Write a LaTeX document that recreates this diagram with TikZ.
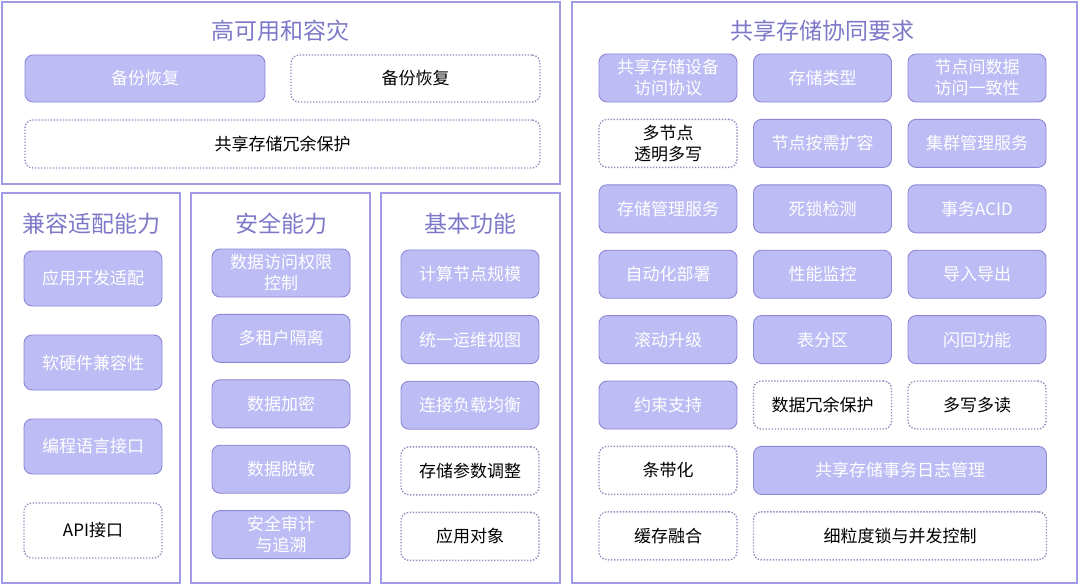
\documentclass[tikz,border=0pt]{standalone}
\usepackage{fontspec}
\setmainfont{Noto Sans CJK SC}
\usepackage{tikz}
\usetikzlibrary{positioning}
\definecolor{panelline}{RGB}{160,155,228}
\definecolor{boxfill}{RGB}{190,188,245}
\definecolor{boxline}{RGB}{140,135,214}
\definecolor{titletext}{RGB}{125,120,200}
\definecolor{dotline}{RGB}{145,142,190}

\begin{document}
\begin{tikzpicture}
				[x=1pt, y=-1pt, inner sep=0pt, outer sep=0pt,
				panel/.style		= {draw=panelline, line width=1.8pt, rectangle, anchor=north west},
				heading/.style		= {text=titletext, font=\fontsize{23}{27}\selectfont},
				solid box/.style	= {draw=boxline, line width=0.9pt, fill=boxfill, rounded corners=8pt, text=white, align=center,
									   minimum width=138pt, minimum height=48pt, font=\fontsize{17}{21}\selectfont},
				open box/.style		= {draw=dotline, line width=1.4pt, dash pattern=on 1.4pt off 1.6pt, fill=white, rounded corners=8pt,
									   text=black, align=center, minimum width=138pt, minimum height=48pt, font=\fontsize{17}{21}\selectfont}]
				
				\useasboundingbox (0,0) rectangle (1080,586);
				
				% frames
				\node [panel, minimum width=558pt, minimum height=182pt]	at (2,2)		(ha)	{};
				\node [panel, minimum width=178pt, minimum height=390pt]	at (2,193)		(jr)	{};
				\node [panel, minimum width=179pt, minimum height=390pt]	at (191,193)	(aq)	{};
				\node [panel, minimum width=179pt, minimum height=390pt]	at (381,193)	(jb)	{};
				\node [panel, minimum width=505pt, minimum height=581pt]	at (572,2)		(gx)	{};
				
				\node [heading]	at (280,31)		(ha title)	{高可用和容灾};
				\node [heading]	at (92,224)		(jr title)	{兼容适配能力};
				\node [heading]	at (281,224)	(aq title)	{安全能力};
				\node [heading]	at (470,224)	(jb title)	{基本功能};
				\node [heading]	at (822,31)		(gx title)	{共享存储协同要求};
				
				% high availability
				\node [solid box, minimum width=240pt, minimum height=47pt]	at (145,78.5)	(ha1)	{备份恢复};
				\node [open box, minimum width=249pt, minimum height=47pt]	at (415.5,78.5)	(ha2)	{备份恢复};
				\node [open box, minimum width=515pt]						at (282.5,144)	(ha3)	{共享存储冗余保护};
				
				% compatibility
				\node [solid box, minimum height=55pt]	at (93,278.5)				(jr1)	{应用开发适配};
				\node [solid box, minimum height=55pt]	[below = 29pt of jr1]		(jr2)	{软硬件兼容性};
				\node [solid box, minimum height=55pt]	[below = 29pt of jr2]		(jr3)	{编程语言接口};
				\node [open box, minimum height=55pt]	[below = 29pt of jr3]		(jr4)	{API接口};
				
				% security
				\node [solid box]	at (281,273)				(aq1)	{数据访问权限\\控制};
				\node [solid box]	[below = 17.4pt of aq1]		(aq2)	{多租户隔离};
				\node [solid box]	[below = 17.4pt of aq2]		(aq3)	{数据加密};
				\node [solid box]	[below = 17.4pt of aq3]		(aq4)	{数据脱敏};
				\node [solid box]	[below = 17.4pt of aq4]		(aq5)	{安全审计\\与追溯};
				
				% basics
				\node [solid box]	at (470,274)				(jb1)	{计算节点规模};
				\node [solid box]	[below = 17.6pt of jb1]		(jb2)	{统一运维视图};
				\node [solid box]	[below = 17.6pt of jb2]		(jb3)	{连接负载均衡};
				\node [open box]	[below = 17.6pt of jb3]		(jb4)	{存储参数调整};
				\node [open box]	[below = 17.6pt of jb4]		(jb5)	{应用对象};
				
				% shared storage
				\node [solid box]	at (668,78)					(gx1)	{共享存储设备\\访问协议};
				\node [solid box]	[right = 16.5pt of gx1]		(gx2)	{存储类型};
				\node [solid box]	[right = 16.5pt of gx2]		(gx3)	{节点间数据\\访问一致性};
				\node [open box]	[below = 17.4pt of gx1]		(gx4)	{多节点\\透明多写};
				\node [solid box]	[below = 17.4pt of gx2]		(gx5)	{节点按需扩容};
				\node [solid box]	[below = 17.4pt of gx3]		(gx6)	{集群管理服务};
				\node [solid box]	[below = 17.4pt of gx4]		(gx7)	{存储管理服务};
				\node [solid box]	[below = 17.4pt of gx5]		(gx8)	{死锁检测};
				\node [solid box]	[below = 17.4pt of gx6]		(gx9)	{事务ACID};
				\node [solid box]	[below = 17.4pt of gx7]		(gx10)	{自动化部署};
				\node [solid box]	[below = 17.4pt of gx8]		(gx11)	{性能监控};
				\node [solid box]	[below = 17.4pt of gx9]		(gx12)	{导入导出};
				\node [solid box]	[below = 17.4pt of gx10]	(gx13)	{滚动升级};
				\node [solid box]	[below = 17.4pt of gx11]	(gx14)	{表分区};
				\node [solid box]	[below = 17.4pt of gx12]	(gx15)	{闪回功能};
				\node [solid box]	[below = 17.4pt of gx13]	(gx16)	{约束支持};
				\node [open box]	[below = 17.4pt of gx14]	(gx17)	{数据冗余保护};
				\node [open box]	[below = 17.4pt of gx15]	(gx18)	{多写多读};
				\node [open box]	[below = 17.4pt of gx16]	(gx19)	{条带化};
				\node [solid box, minimum width=293pt, anchor=north west]	at (gx17.south west |- gx19.north)	(gx20)	{共享存储事务日志管理};
				\node [open box]	[below = 17.4pt of gx19]	(gx21)	{缓存融合};
				\node [open box, minimum width=293pt, anchor=north west]	at (gx20.south west |- gx21.north)	(gx22)	{细粒度锁与并发控制};
				\end{tikzpicture}
\end{document}
